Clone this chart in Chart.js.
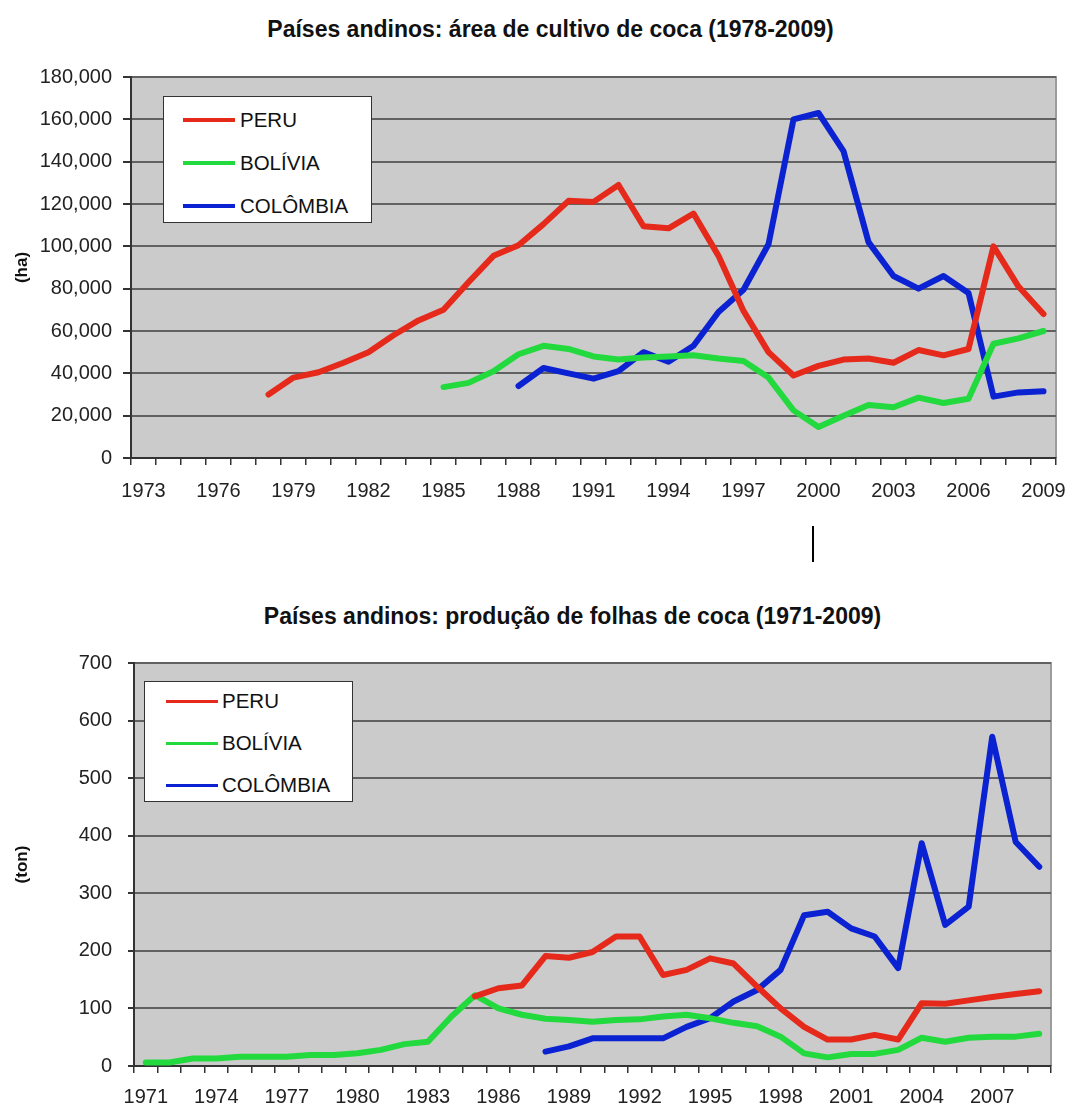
<!DOCTYPE html>
<html>
<head>
<meta charset="utf-8">
<script src="https://cdn.jsdelivr.net/npm/chart.js@4.4.1/dist/chart.umd.min.js"></script>
<style>
  html, body { margin: 0; padding: 0; background: #fff; }
  body { width: 1067px; height: 1113px; position: relative; overflow: hidden;
         font-family: "Liberation Sans", Arial, sans-serif; }
  canvas { position: absolute; left: 0; }
  .title { position: absolute; left: 0; width: 1067px; text-align: center;
           font-weight: bold; font-size: 23px; color: #111; white-space: nowrap; }
  .legend { position: absolute; background: #fff; border: 1px solid #333; box-sizing: border-box; }
  .legend .row { position: absolute; left: 0; height: 0; }
  .legend .swatch { position: absolute; }
  .legend .txt { position: absolute; font-size: 20.5px; color: #111; line-height: 24px;
                 transform: translateY(-12px); white-space: nowrap; }
  .mark { position: absolute; background: #000; }
</style>
</head>
<body>
<div class="title" id="t1" style="top:16px;left:17px">Países andinos: área de cultivo de coca (1978-2009)</div>
<canvas id="area" width="1067" height="520" style="top:0"></canvas>
<div class="mark" style="left:812px;top:526px;width:2px;height:36px"></div>
<div class="title" id="t2" style="top:603px;left:39px">Países andinos: produção de folhas de coca (1971-2009)</div>
<canvas id="prod" width="1067" height="523" style="top:590px"></canvas>
<div class="legend" id="leg1" style="left:163px;top:96px;width:209px;height:127px"></div>
<div class="legend" id="leg2" style="left:144px;top:681px;width:209px;height:121px"></div>

<script>
// ---- Coca cultivation area (ha), 1973-2009 ----
const areaYears = ['1973','1974','1975','1976','1977','1978','1979','1980','1981','1982',
  '1983','1984','1985','1986','1987','1988','1989','1990','1991','1992','1993','1994',
  '1995','1996','1997','1998','1999','2000','2001','2002','2003','2004','2005','2006',
  '2007','2008','2009'];
const areaPeru = [null, null, null, null, null,
  30000, 38000, 40500, 45000, 50000, 58000, 65000, 70000, 83000, 95500,
  100500, 110500, 121500, 121000, 129000, 109500, 108500, 115500, 95500, 69500,
  50000, 39000, 43500, 46500, 47000, 45000, 51000, 48500, 51500, 100000, 81000, 68000];
const areaBolivia = [null, null, null, null, null, null, null, null, null, null, null, null,
  33500, 35500, 41000, 49000, 53000, 51500, 48000, 46500, 47500, 48000, 48500, 47000,
  45800, 38000, 22500, 14600, 20000, 25000, 24000, 28500, 26000, 28000, 54000, 56500, 60000];
const areaColombia = [null, null, null, null, null, null, null, null, null, null, null, null,
  null, null, null,
  34000, 42500, 40000, 37500, 41000, 50000, 45500, 53000, 69000, 79500, 101000,
  160000, 163000, 145000, 102000, 86000, 80000, 86000, 78000, 29000, 31000, 31500];
const areaTicks = { min: 0, max: 180000, step: 20000 };

// ---- Coca leaf production (ton), 1971-2009 ----
const prodYears = ['1971','1972','1973','1974','1975','1976','1977','1978','1979','1980',
  '1981','1982','1983','1984','1985','1986','1987','1988','1989','1990','1991','1992',
  '1993','1994','1995','1996','1997','1998','1999','2000','2001','2002','2003','2004',
  '2005','2006','2007','2008','2009'];
const prodPeru = [null, null, null, null, null, null, null, null, null, null, null, null, null, null,
  121, 135, 140, 191, 188, 198, 225, 225, 158, 167, 187, 178, 138, 100, 68,
  46, 46, 54, 46, 109, 108, 114, 120, 125, 130];
const prodBolivia = [6, 6, 13, 13, 16, 16, 16, 19, 19, 22, 28, 38, 42, 86, 123, 100, 89, 82, 80,
  77, 80, 81, 86, 89, 83, 75, 69, 51, 22, 15, 21, 21, 28, 49, 42, 49, 51, 51, 56];
const prodColombia = [null, null, null, null, null, null, null, null, null, null, null, null,
  null, null, null, null, null,
  25, 34, 48, 48, 48, 48, 68, 83, 112, 132, 167, 262, 268, 239, 225, 170, 387, 245,
  277, 572, 389, 346];
const prodTicks = { min: 0, max: 700, step: 100 };

const seriesNames = ['PERU', 'BOLÍVIA', 'COLÔMBIA'];

// ---- styling ----
const FONT = '"Liberation Sans", Arial, sans-serif';
const seriesColors = ['#e52a1b', '#22da3e', '#0b22d2'];
const PLOT_BG = '#cbcbcb';
const GRID = '#616161';
const AXIS = '#333333';

// Grey plot panel with a light frame on the top and right sides
const plotPanel = {
  id: 'plotPanel',
  beforeDraw(chart) {
    const { ctx, chartArea: a } = chart;
    ctx.save();
    ctx.fillStyle = PLOT_BG;
    ctx.fillRect(a.left, a.top, a.right - a.left, a.bottom - a.top);
    ctx.strokeStyle = '#9c9c9c';
    ctx.lineWidth = 2;
    ctx.beginPath();
    ctx.moveTo(a.left, a.top);
    ctx.lineTo(a.right, a.top);
    ctx.lineTo(a.right, a.bottom);
    ctx.stroke();
    ctx.restore();
  }
};

function buildChart(id, labels, series, ticks, yTitle, geom, fmt) {
  const datasets = series.map((data, i) => ({
    label: seriesNames[i],
    data,
    borderColor: seriesColors[i],
    backgroundColor: seriesColors[i],
    borderWidth: 6,
    pointRadius: 0,
    pointHoverRadius: 0,
    tension: 0,
    spanGaps: false,
    borderJoinStyle: 'round',
    borderCapStyle: 'round',
    fill: false
  }));
  return new Chart(document.getElementById(id), {
    type: 'line',
    data: { labels, datasets },
    plugins: [plotPanel],
    options: {
      responsive: false,
      animation: false,
      events: [],
      layout: { padding: { left: 0, right: geom.right, top: geom.top, bottom: 0 } },
      plugins: { legend: { display: false }, title: { display: false }, tooltip: { enabled: false } },
      scales: {
        x: {
          type: 'category',
          offset: true,
          grid: { offset: true, drawOnChartArea: false, drawTicks: true,
                  tickLength: 7, color: AXIS, lineWidth: 1.5 },
          border: { display: true, color: AXIS, width: 2 },
          ticks: {
            autoSkip: false, maxRotation: 0, minRotation: 0,
            padding: geom.xPad,
            color: '#222',
            font: { family: FONT, size: 20 },
            callback: (v, i) => (i % 3 === 0 ? labels[i] : '')
          },
          afterFit: (s) => { s.height = geom.xAxisH; s.paddingLeft = 0; s.paddingRight = 0; }
        },
        y: {
          min: ticks.min, max: ticks.max,
          grid: { color: GRID, lineWidth: 2, tickLength: geom.tickLen, tickColor: AXIS, drawTicks: true },
          border: { display: true, color: AXIS, width: 2 },
          ticks: {
            stepSize: ticks.step,
            padding: geom.yPad,
            color: '#222',
            font: { family: FONT, size: 20 },
            callback: fmt
          },
          title: {
            display: true, text: yTitle, color: '#111',
            font: { family: FONT, size: 17, weight: 'bold' },
            padding: { top: geom.titlePad, bottom: 0 }
          },
          afterFit: (s) => { s.width = geom.left; s.paddingTop = 0; s.paddingBottom = 0; }
        }
      }
    }
  });
}

buildChart('area', areaYears, [areaPeru, areaBolivia, areaColombia], areaTicks, '(ha)',
  { left: 131, right: 11, top: 77, xAxisH: 520 - 458, xPad: 14, tickLen: 8, yPad: 11, titlePad: 12 },
  (v) => Number(v).toLocaleString('en-US'));

buildChart('prod', prodYears, [prodPeru, prodBolivia, prodColombia], prodTicks, '(ton)',
  { left: 134, right: 16, top: 73, xAxisH: 523 - 476, xPad: 12, tickLen: 6, yPad: 16, titlePad: 12 },
  (v) => String(v));

// Legends built from the series names and colours
function buildLegend(id, rows, swLeft, swWidth, swThick, textLeft) {
  const box = document.getElementById(id);
  seriesNames.forEach((name, i) => {
    const row = document.createElement('div');
    row.className = 'row';
    row.style.top = rows[i] + 'px';
    const sw = document.createElement('div');
    sw.className = 'swatch';
    sw.style.left = swLeft + 'px';
    sw.style.width = swWidth + 'px';
    sw.style.height = swThick + 'px';
    sw.style.top = (-swThick / 2) + 'px';
    sw.style.background = seriesColors[i];
    const tx = document.createElement('div');
    tx.className = 'txt';
    tx.style.left = textLeft + 'px';
    tx.textContent = name;
    row.appendChild(sw);
    row.appendChild(tx);
    box.appendChild(row);
  });
}
buildLegend('leg1', [23, 66, 109], 19, 52, 4, 76);
buildLegend('leg2', [19, 61, 103], 21, 52, 3, 77);
</script>
</body>
</html>
